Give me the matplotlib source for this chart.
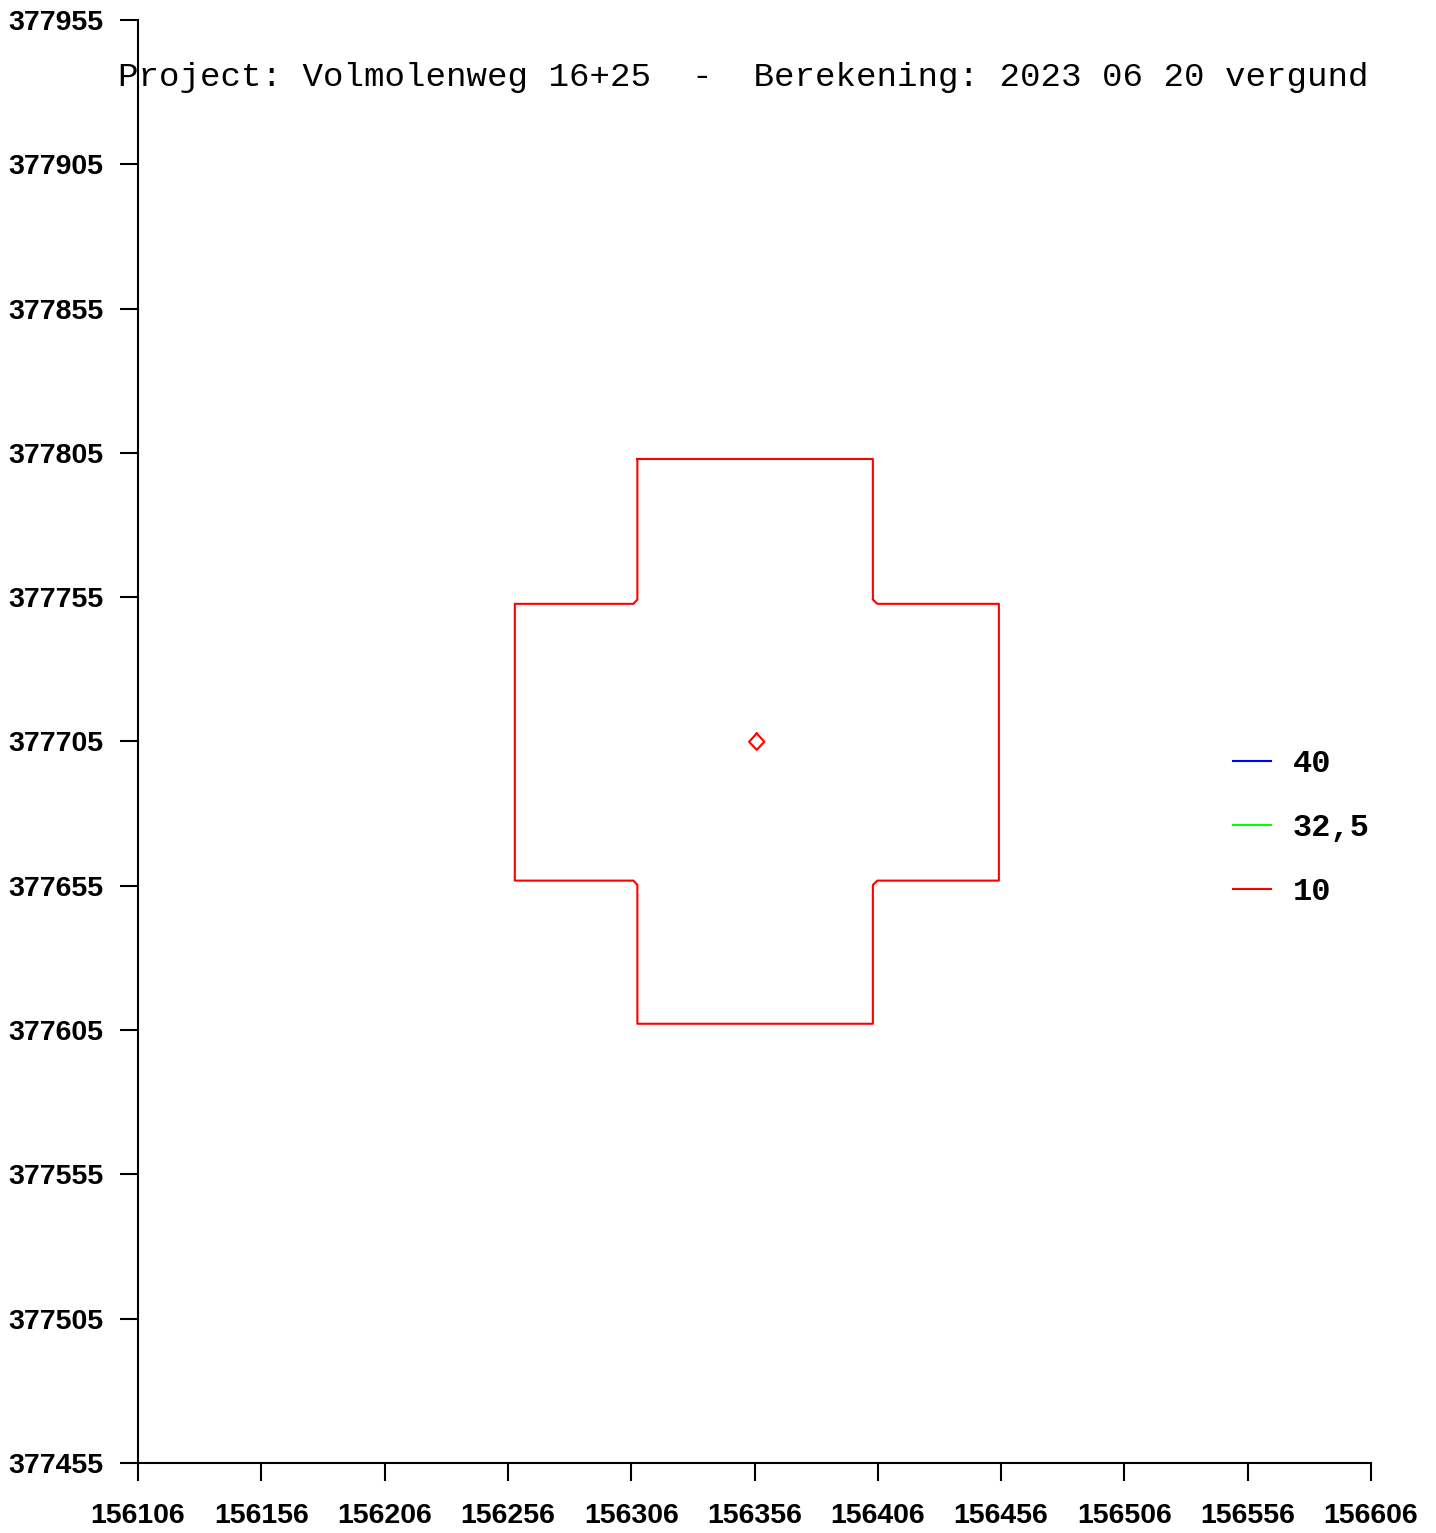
import matplotlib.pyplot as plt
from matplotlib.lines import Line2D

# Contourniveaus en kleuren
niveaus = ['40', '32,5', '10']
kleuren = ['#0000ff', '#00ff00', '#ff0000']

# Contour 10 (kruisvorm rond de bron)
c10_x = [156308.5, 156404.0, 156404.0, 156405.8, 156455.1, 156455.1, 156405.8, 156404.0,
         156404.0, 156308.5, 156308.5, 156306.9, 156258.8, 156258.8, 156306.9, 156308.5,
         156308.5]
c10_y = [377802.9, 377802.9, 377754.2, 377752.7, 377752.7, 377656.8, 377656.8, 377655.3,
         377607.2, 377607.2, 377655.3, 377656.8, 377656.8, 377752.7, 377752.7, 377754.2,
         377802.9]

# Kleine contour bij de bron
bron_x = [156356.9, 156360.0, 156356.9, 156353.8, 156356.9]
bron_y = [377707.8, 377704.9, 377702.1, 377704.9, 377707.8]

# Assen
x_ticks = [156106, 156156, 156206, 156256, 156306, 156356, 156406, 156456, 156506, 156556, 156606]
y_ticks = [377455, 377505, 377555, 377605, 377655, 377705, 377755, 377805, 377855, 377905, 377955]

titel = 'Project: Volmolenweg 16+25  -  Berekening: 2023 06 20 vergund'

W, H = 1436, 1533
fig = plt.figure(figsize=(W / 100, H / 100), dpi=100)
ax = fig.add_axes([138 / W, (H - 1463) / H, (1371 - 138) / W, (1463 - 20) / H])

ax.plot(c10_x, c10_y, color=kleuren[2], lw=1.5)
ax.plot(bron_x, bron_y, color=kleuren[2], lw=1.5)

ax.set_xlim(x_ticks[0], x_ticks[-1])
ax.set_ylim(y_ticks[0], y_ticks[-1])
ax.set_xticks(x_ticks)
ax.set_yticks(y_ticks)
ax.set_xticklabels([str(v) for v in x_ticks])
ax.set_yticklabels([str(v) for v in y_ticks])

for s in ['top', 'right']:
    ax.spines[s].set_visible(False)
for s in ['left', 'bottom']:
    ax.spines[s].set_linewidth(1.5)
ax.tick_params(direction='out', length=13, width=1.5, color='black')
ax.tick_params(axis='y', pad=12)
ax.tick_params(axis='x', pad=16)
for lbl in ax.get_xticklabels() + ax.get_yticklabels():
    lbl.set_fontfamily(['Liberation Sans', 'DejaVu Sans'])
    lbl.set_fontweight('bold')
    lbl.set_fontsize(20.5)

fig.text(118 / W, (H - 86) / H, titel, family=['Liberation Mono', 'DejaVu Sans Mono'],
         fontsize=24.6, va='baseline', ha='left')

handles = [Line2D([], [], color=k, lw=1.5) for k in kleuren]
leg = fig.legend(handles, niveaus, loc='upper left',
                 bbox_to_anchor=(1217 / W, (H - 733) / H), frameon=False,
                 prop={'family': ['Liberation Mono', 'DejaVu Sans Mono'], 'size': 23, 'weight': 'bold'},
                 handlelength=1.2, handletextpad=0.68, labelspacing=1.07, borderpad=0)

fig.savefig('out.png', dpi=100)
